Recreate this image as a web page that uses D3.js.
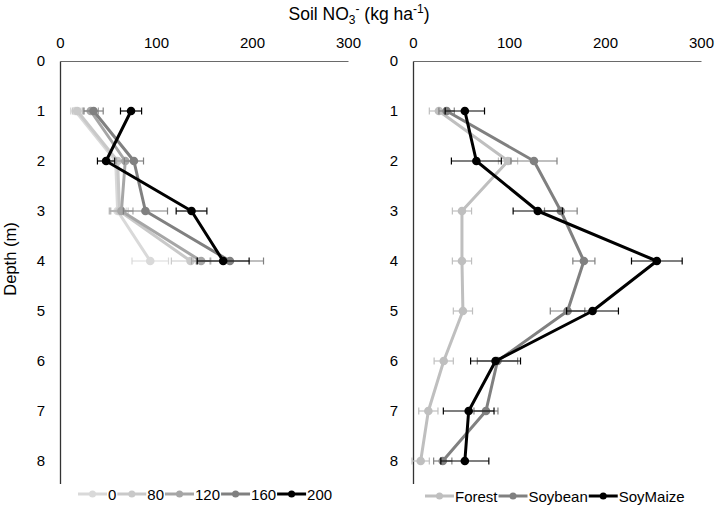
<!DOCTYPE html>
<html><head><meta charset="utf-8">
<script src="https://cdn.jsdelivr.net/npm/d3@7"></script>
<style>
body{margin:0;background:#fff;}
text{font-family:"Liberation Sans",Arial,sans-serif;fill:#000;}
</style></head>
<body><svg id="c" width="720" height="508"></svg>
<script>
// ---------- data ----------
const depthsLeft = [1, 2, 3, 4];
const rateLabels = ["0", "80", "120", "160", "200"];
const rate0   = [16, 58, 60, 94];
const rate80  = [18, 60, 62, 136];
const rate120 = [32, 68, 64, 147];
const rate160 = [35, 77, 89, 177];
const rate200 = [74, 48, 137, 170];
const err0   = [5, 8, 9, 19];
const err80  = [5, 8, 9, 20];
const err120 = [8, 9, 12, 10];
const err160 = [10, 10, 23, 35];
const err200 = [11, 9, 16, 27];

const depthsRight = [1, 2, 3, 4, 5, 6, 7, 8];
const landLabels = ["Forest", "Soybean", "SoyMaize"];
const forest   = [27, 99, 51, 51, 52, 32, 16, 8];
const soybean  = [35, 126, 154, 178, 161, 88, 76, 31];
const soymaize = [54, 66, 130, 254, 187, 86, 58, 54];
const errForest   = [10, 10, 10, 10, 10, 10, 10, 9];
const errSoybean  = [8, 24, 17, 11.5, 18, 21, 12.5, 9.5];
const errSoymaize = [20.5, 26, 25.7, 26.4, 27, 26, 26.4, 25];

const xTicks = [0, 100, 200, 300];
const yTicks = [0, 1, 2, 3, 4, 5, 6, 7, 8];

const leftColors = ["#d9d9d9", "#c9c9c9", "#a6a6a6", "#808080", "#000000"];
const rightColors = ["#bfbfbf", "#808080", "#000000"];

// ---------- build ----------
const svg = d3.select("#c");
const y = d3.scaleLinear([0, 8.45], [61, 483.5]);
const xL = d3.scaleLinear([0, 300], [60, 348]);
const xR = d3.scaleLinear([0, 300], [413, 701]);

const leftSeries = [rate0, rate80, rate120, rate160, rate200].map((v, i) => ({
  name: rateLabels[i], color: leftColors[i],
  pts: v.map((d, j) => ({x: d, y: depthsLeft[j], e: [err0, err80, err120, err160, err200][i][j]}))
}));
const rightSeries = [forest, soybean, soymaize].map((v, i) => ({
  name: landLabels[i], color: rightColors[i],
  pts: v.map((d, j) => ({x: d, y: depthsRight[j], e: [errForest, errSoybean, errSoymaize][i][j]}))
}));

function drawAxes(x) {
  const gt = svg.append("g").attr("transform", `translate(0,${y(0)})`)
    .call(d3.axisTop(x).tickValues(xTicks).tickSize(0).tickSizeOuter(0).tickPadding(13));
  const gl = svg.append("g").attr("transform", `translate(${x(0)},0)`)
    .call(d3.axisLeft(y).tickValues(yTicks).tickSize(0).tickSizeOuter(0).tickPadding(15).tickFormat(d3.format("d")));
  gt.select(".domain").attr("stroke", "#6a6a6a").attr("stroke-width", 1);
  gl.select(".domain").attr("stroke", "#333333").attr("stroke-width", 1.3);
  [gt, gl].forEach(g => {
    g.selectAll("text").attr("font-size", 15).attr("fill", "#000")
      .attr("font-family", "'Liberation Sans', Arial, sans-serif");
  });
}

function drawSeries(x, series) {
  const line = d3.line().x(d => x(d.x)).y(d => y(d.y));
  series.forEach(s => {
    const g = svg.append("g");
    s.pts.forEach(p => {
      g.append("line").attr("x1", x(p.x - p.e)).attr("x2", x(p.x + p.e))
        .attr("y1", y(p.y)).attr("y2", y(p.y)).attr("stroke", s.color).attr("stroke-width", 1.2);
      [p.x - p.e, p.x + p.e].forEach(v => {
        g.append("line").attr("x1", x(v)).attr("x2", x(v))
          .attr("y1", y(p.y) - 3.5).attr("y2", y(p.y) + 3.5).attr("stroke", s.color).attr("stroke-width", 1.2);
      });
    });
    g.append("path").datum(s.pts).attr("d", line).attr("fill", "none")
      .attr("stroke", s.color).attr("stroke-width", 3).attr("stroke-linejoin", "round");
    g.selectAll("circle").data(s.pts).join("circle")
      .attr("cx", d => x(d.x)).attr("cy", d => y(d.y)).attr("r", 4.3).attr("fill", s.color);
  });
}

function drawLegend(series, x0, yy) {
  let cx = x0;
  series.forEach(s => {
    const g = svg.append("g");
    g.append("line").attr("x1", cx).attr("x2", cx + 29).attr("y1", yy).attr("y2", yy)
      .attr("stroke", s.color).attr("stroke-width", 3);
    g.append("circle").attr("cx", cx + 14.5).attr("cy", yy).attr("r", 3.5).attr("fill", s.color);
    const t = g.append("text").attr("x", cx + 30).attr("y", yy + 5.5).attr("font-size", 15).text(s.name);
    cx += 30 + t.node().getComputedTextLength() + 1;
  });
}

drawAxes(xL);
drawAxes(xR);
drawSeries(xL, leftSeries);
drawSeries(xR, rightSeries);
drawLegend(leftSeries, 78, 494);
drawLegend(rightSeries, 425, 496);

// titles
const title = svg.append("text").attr("x", 359).attr("y", 20).attr("text-anchor", "middle").attr("font-size", 17.5);
title.append("tspan").text("Soil NO");
title.append("tspan").attr("font-size", 12).attr("dy", 4).text("3");
title.append("tspan").attr("font-size", 12).attr("dy", -11).text("-");
title.append("tspan").attr("dy", 7).text(" (kg ha");
title.append("tspan").attr("font-size", 12).attr("dy", -7).text("-1");
title.append("tspan").attr("dy", 7).text(")");

svg.append("text").attr("transform", "translate(16,259) rotate(-90)")
  .attr("text-anchor", "middle").attr("font-size", 16.5).text("Depth (m)");
</script></body></html>
